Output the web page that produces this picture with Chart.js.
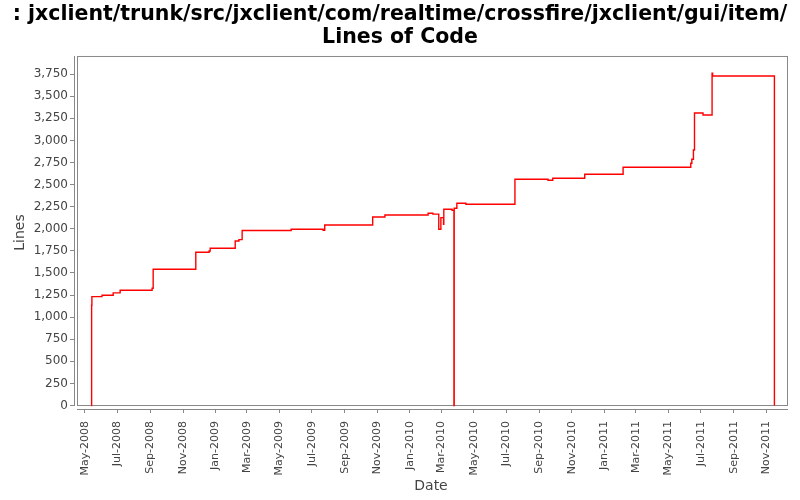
<!DOCTYPE html>
<html>
<head>
<meta charset="utf-8">
<script src="https://cdn.jsdelivr.net/npm/chart.js@4"></script>
<style>
  html, body { margin: 0; padding: 0; background: #fff; }
  #wrap { width: 800px; height: 500px; }
</style>
</head>
<body>
<div id="wrap"><canvas id="chart" width="800" height="500"></canvas></div>
<script>
// commit dates and line counts
const commitDates = [
    '2008-05-13', '2008-05-13T12:00', '2008-05-14', '2008-06-02', '2008-06-23',
    '2008-07-06', '2008-09-04', '2008-09-06', '2008-11-25', '2008-12-20',
    '2008-12-22', '2009-02-07', '2009-02-14', '2009-02-20', '2009-05-23',
    '2009-07-22', '2009-07-25', '2009-10-23', '2009-11-15', '2010-02-04',
    '2010-02-13', '2010-02-24', '2010-02-28', '2010-03-05', '2010-03-05T12:00',
    '2010-03-21', '2010-03-24T12:00', '2010-03-25', '2010-03-30', '2010-04-16',
    '2010-07-17', '2010-09-17', '2010-09-26', '2010-11-25', '2011-02-05',
    '2011-06-12', '2011-06-14', '2011-06-17', '2011-06-19', '2011-07-05',
    '2011-07-22', '2011-07-23', '2011-11-16'
];
const lineCounts = [
    0, 1134, 1232, 1247, 1274,
    1304, 1327, 1542, 1734, 1749,
    1780, 1862, 1877, 1981, 1995,
    1983, 2043, 2134, 2156, 2176,
    2166, 1995, 2126, 2051, 2221,
    2210, 0, 2232, 2289, 2278,
    2561, 2549, 2572, 2617, 2696,
    2742, 2787, 2892, 3311, 3288,
    3761, 3730, 0
];

const tickDates = [
    '2008-05-01', '2008-07-01', '2008-09-01', '2008-11-01', '2009-01-01', '2009-03-01',
    '2009-05-01', '2009-07-01', '2009-09-01', '2009-11-01', '2010-01-01', '2010-03-01',
    '2010-05-01', '2010-07-01', '2010-09-01', '2010-11-01', '2011-01-01', '2011-03-01',
    '2011-05-01', '2011-07-01', '2011-09-01', '2011-11-01'
];
const tickLabels = [
    'May-2008', 'Jul-2008', 'Sep-2008', 'Nov-2008', 'Jan-2009', 'Mar-2009',
    'May-2009', 'Jul-2009', 'Sep-2009', 'Nov-2009', 'Jan-2010', 'Mar-2010',
    'May-2010', 'Jul-2010', 'Sep-2010', 'Nov-2010', 'Jan-2011', 'Mar-2011',
    'May-2011', 'Jul-2011', 'Sep-2011', 'Nov-2011'
];
const yTicks = [0, 250, 500, 750, 1000, 1250, 1500, 1750, 2000, 2250, 2500, 2750, 3000, 3250, 3500, 3750];

const titleLines = [': jxclient/trunk/src/jxclient/com/realtime/crossfire/jxclient/gui/item/', 'Lines of Code'];

// parse as UTC so the timezone of the browser does not matter
const toTime = s => Date.parse(s.length === 10 ? s + 'T00:00:00Z' : s + ':00Z');

const points = commitDates.map((d, i) => ({ x: toTime(d), y: lineCounts[i] }));
const tickTimes = tickDates.map(toTime);

const axisGray = '#888888';
const labelGray = '#444444';

// plot box and axis lines, the axes sit a few pixels off the plot like in the original
const plotFrame = {
    id: 'plotFrame',
    beforeDatasetsDraw(chart) {
        const { ctx, chartArea: a } = chart;
        ctx.save();
        ctx.strokeStyle = axisGray;
        ctx.lineWidth = 1;
        ctx.strokeRect(a.left + 3.5, a.top + 0.5, a.right - a.left - 4, a.bottom - a.top - 4);
        ctx.beginPath();
        ctx.moveTo(a.left + 0.5, a.top);
        ctx.lineTo(a.left + 0.5, a.bottom - 3);
        ctx.moveTo(a.left + 3, a.bottom + 0.5);
        ctx.lineTo(a.right, a.bottom + 0.5);
        ctx.stroke();
        ctx.restore();
    }
};

new Chart(document.getElementById('chart'), {
    type: 'line',
    data: {
        datasets: [{
            data: points,
            borderColor: '#ff0000',
            borderWidth: 1.4,
            pointRadius: 0,
            stepped: 'before',
            fill: false
        }]
    },
    options: {
        responsive: false,
        animation: false,
        layout: { padding: 0 },
        plugins: {
            legend: { display: false },
            tooltip: { enabled: false },
            title: {
                display: true,
                text: titleLines,
                color: '#000',
                font: { family: 'DejaVu Sans', size: 20.5, weight: 'bold', lineHeight: 1.08 },
                padding: { top: 4, bottom: 7.7 }
            }
        },
        scales: {
            x: {
                type: 'linear',
                min: Date.UTC(2008, 3, 10, 10),
                max: Date.UTC(2011, 11, 11, 12),
                afterFit(scale) { scale.height = 91; },
                afterBuildTicks(scale) { scale.ticks = tickTimes.map(v => ({ value: v })); },
                border: { display: false },
                grid: { drawOnChartArea: false, drawTicks: true, tickLength: 4, color: axisGray },
                ticks: {
                    autoSkip: false,
                    maxRotation: 90,
                    minRotation: 90,
                    padding: 8,
                    color: labelGray,
                    font: { family: 'DejaVu Sans', size: 11 },
                    callback: v => tickLabels[tickTimes.indexOf(v)]
                },
                title: {
                    display: true,
                    text: 'Date',
                    color: labelGray,
                    font: { family: 'DejaVu Sans', size: 14 },
                    padding: { top: 0, bottom: 5 }
                }
            },
            y: {
                min: -40,
                max: 3956,
                afterFit(scale) { scale.width = 74; },
                afterBuildTicks(scale) { scale.ticks = yTicks.map(v => ({ value: v })); },
                border: { display: false },
                grid: { drawOnChartArea: false, drawTicks: true, tickLength: 4, color: axisGray },
                ticks: {
                    padding: 2,
                    color: labelGray,
                    font: { family: 'DejaVu Sans', size: 12 },
                    callback: v => v.toLocaleString('en-US')
                },
                title: {
                    display: true,
                    text: 'Lines',
                    color: labelGray,
                    font: { family: 'DejaVu Sans', size: 14 },
                    padding: { top: 12, bottom: 0 }
                }
            },
            // empty right axis, only keeps a margin on the right of the plot
            spacer: {
                position: 'right',
                afterFit(scale) { scale.width = 12; },
                border: { display: false },
                grid: { display: false },
                ticks: { display: false }
            }
        }
    },
    plugins: [plotFrame]
});
</script>
</body>
</html>
